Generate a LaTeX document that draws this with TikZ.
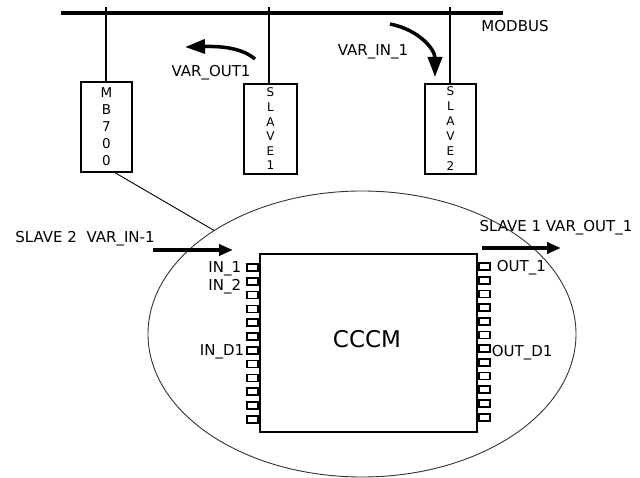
\documentclass[tikz,border=0pt]{standalone}
\usepackage{fontspec}
\setmainfont{DejaVu Sans}
\usetikzlibrary{arrows.meta,shapes.geometric}
\begin{document}
\begin{tikzpicture}[x=1pt,y=-1pt,
  lbl/.style={font=\fontsize{15}{17}\selectfont, inner sep=0pt, text height=10.5pt, text depth=0pt},
  devbox/.style={draw, line width=2pt, inner sep=0pt, align=center},
  wire/.style={line width=2pt},
  bus/.style={line width=4.5pt},
  thin/.style={line width=0.9pt},
  fatarrow/.style={line width=3.5pt, -{Triangle[length=20pt,width=14pt]}},
  sigarrow/.style={line width=4.5pt, -{Triangle[length=14pt,width=11pt]}},
  pin/.style={draw, line width=1.7pt, minimum width=11pt, minimum height=7pt, inner sep=0pt},
]
\useasboundingbox (0,0) rectangle (640,478);

% ellipse and link
\node[draw=black!80, ellipse, thin, minimum width=428pt, minimum height=286pt, inner sep=0pt, outer sep=0pt] (ell) at (362,334) {};

% bus
\coordinate (busL) at (61,13);
\coordinate (busR) at (503,13);
\draw[bus] (busL) -- (busR);
\node[lbl] (modbus) at (515,26) {MODBUS};

% devices
\node[devbox, minimum width=51pt, minimum height=90pt, font=\fontsize{13.5}{17}\selectfont] (mb) at (106.5,127) {M\\B\\7\\0\\0};
\node[devbox, minimum width=53pt, minimum height=90pt, font=\fontsize{12}{14.6}\selectfont] (s1) at (270.5,129) {S\\L\\A\\V\\E\\1};
\node[devbox, minimum width=51pt, minimum height=90pt, font=\fontsize{12}{15}\selectfont] (s2) at (450.5,129) {S\\L\\A\\V\\E\\2};

\coordinate (mbtap) at (106,7);
\coordinate (s1tap) at (269,7);
\coordinate (s2tap) at (450,7);
\draw[wire] (mbtap) -- (mbtap |- mb.north);
\draw[wire] (s1tap) -- (s1tap |- s1.north);
\draw[wire] (s2tap) -- (s2tap |- s2.north);

\draw[thin] ([xshift=9pt]mb.south) -- (ell.145);

% bus transfer arrows
\coordinate (vo1s) at (255,59);
\coordinate (vo1e) at (185,47);
\draw[fatarrow] (vo1s) .. controls (243,49) and (225,46) .. (vo1e);
\node[lbl] (vo1lbl) at (211,71) {VAR\_OUT1};

\coordinate (vi1s) at (390,24);
\coordinate (vi1e) at (435,77);
\draw[fatarrow] (vi1s) .. controls (420,30) and (435,50) .. (vi1e);
\node[lbl] (vi1lbl) at (373,50) {VAR\_IN\_1};

% CCCM block
\node[draw, line width=2.5pt, minimum width=217pt, minimum height=178pt, inner sep=0pt] (cccm) at (368.5,343) {};
\node[font=\fontsize{23}{26}\selectfont, inner sep=0pt] (cccmtxt) at (367,339) {CCCM};

\foreach \i in {0,...,11} {
  \node[pin, anchor=east] (pl\i) at (259,{267.5+13.8*\i}) {};
  \node[pin, anchor=west] (pr\i) at (478,{266.5+13.7*\i}) {};
}

\node[lbl, anchor=east] (in1) at ([xshift=-5pt]pl0.west) {IN\_1};
\node[lbl, anchor=east] (in2) at ([xshift=-5pt, yshift=-4pt]pl1.west) {IN\_2};
\node[lbl, anchor=east] (ind1) at ([xshift=-2pt]pl6.west) {IN\_D1};
\node[lbl, anchor=west] (out1) at ([xshift=6pt]pr0.east) {OUT\_1};
\node[lbl, anchor=west] (outd1) at ([xshift=1pt, yshift=-3pt]pr6.east) {OUT\_D1};

% external signal arrows
\coordinate (ins) at (153,250);
\coordinate (ine) at (233,250);
\draw[sigarrow] (ins) -- (ine);
\node[lbl] (inlbl) at (85,237) {SLAVE 2\ \ VAR\_IN-1};

\coordinate (outs) at (482,248);
\coordinate (oute) at (561,248);
\draw[sigarrow] (outs) -- (oute);
\node[lbl] (outlbl) at (556,226) {SLAVE 1 VAR\_OUT\_1};
\end{tikzpicture}
\end{document}
